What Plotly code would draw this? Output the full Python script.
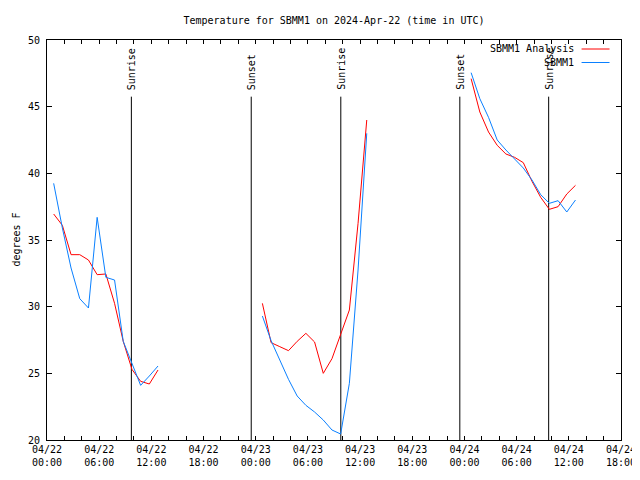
import plotly.graph_objects as go

FONT = "DejaVu Sans Mono"

# --- data -----------------------------------------------------------------
day1 = ["2024-04-22 %02d:46" % h for h in range(0, 13)]
day2 = ["2024-04-23 %02d:46" % h for h in range(0, 13)]
day3 = ["2024-04-24 %02d:46" % h for h in range(0, 13)]

obs_day1 = [39.25, 35.9, 32.9, 30.6, 29.9, 36.7, 32.2, 32.0, 27.4, 25.7, 24.1, 24.8, 25.55]
obs_day2 = [29.3, 27.45, 26.0, 24.55, 23.3, 22.6, 22.1, 21.5, 20.75, 20.45, 24.25, 32.75, 43.0]
obs_day3 = [47.55, 45.6, 44.2, 42.5, 41.75, 41.1, 40.4, 39.5, 38.4, 37.75, 37.95, 37.1, 38.0]

ana_day1 = [36.95, 36.1, 33.9, 33.9, 33.5, 32.4, 32.45, 30.25, 27.4, 25.3, 24.4, 24.2, 25.25]
ana_day2 = [30.25, 27.3, 27.0, 26.7, 27.4, 28.0, 27.35, 25.0, 26.1, 27.9, 29.75, 36.25, 44.0]
ana_day3 = [47.1, 44.6, 43.1, 42.1, 41.45, 41.2, 40.8, 39.4, 38.2, 37.3, 37.5, 38.45, 39.1]

sun_times = ["2024-04-22 09:42", "2024-04-22 23:29", "2024-04-23 09:47",
             "2024-04-23 23:28", "2024-04-24 09:41"]
sun_labels = ["Sunrise", "Sunset", "Sunrise", "Sunset", "Sunrise"]

x_tickvals = ["2024-04-22 00:00", "2024-04-22 06:00", "2024-04-22 12:00", "2024-04-22 18:00",
              "2024-04-23 00:00", "2024-04-23 06:00", "2024-04-23 12:00", "2024-04-23 18:00",
              "2024-04-24 00:00", "2024-04-24 06:00", "2024-04-24 12:00", "2024-04-24 18:00"]
x_ticktext = ["04/22<br>00:00", "04/22<br>06:00", "04/22<br>12:00", "04/22<br>18:00",
              "04/23<br>00:00", "04/23<br>06:00", "04/23<br>12:00", "04/23<br>18:00",
              "04/24<br>00:00", "04/24<br>06:00", "04/24<br>12:00", "04/24<br>18:00"]
y_tickvals = [20, 25, 30, 35, 40, 45, 50]

series_names = ["SBMM1 Analysis", "SBMM1"]
series_colors = ["#ff0000", "#0a80ff"]

# --- figure ---------------------------------------------------------------
def joined(a, b, c):
    return a + [None] + b + [None] + c

x_all = joined(day1, day2, day3)

# the page body has an 8px margin: the figure is drawn 8px right / down
W, H = 632, 472
PL, PT, PW, PH = 38.5, 32.0, 575.0, 400.0   # plot area in figure pixels

fig = go.Figure()
fig.add_trace(go.Scatter(x=x_all, y=joined(ana_day1, ana_day2, ana_day3), mode="lines",
                         name=series_names[0], line=dict(color=series_colors[0], width=1),
                         connectgaps=False))
fig.add_trace(go.Scatter(x=x_all, y=joined(obs_day1, obs_day2, obs_day3), mode="lines",
                         name=series_names[1], line=dict(color=series_colors[1], width=1),
                         connectgaps=False))

for t, lab in zip(sun_times, sun_labels):
    fig.add_shape(type="line", xref="x", yref="y", x0=t, x1=t, y0=20, y1=45.75,
                  line=dict(color="black", width=1), layer="below")
    fig.add_annotation(x=t, y=46.1, xref="x", yref="y", text=lab, textangle=-90,
                       showarrow=False, xanchor="center", yanchor="bottom",
                       font=dict(family=FONT, size=10, color="black"))

# manual gnuplot-style legend (text, then sample line to its right)
for i, (nm, col) in enumerate(zip(series_names, series_colors)):
    ypix = 49 + 13.5 * i          # screen pixels
    yp = 1 - (ypix - 40) / PH
    fig.add_annotation(x=(576 - 46.5) / PW, y=yp, xref="paper", yref="paper", text=nm,
                       showarrow=False, xanchor="right", yanchor="middle",
                       font=dict(family=FONT, size=10, color="black"))
    fig.add_shape(type="line", xref="paper", yref="paper",
                  x0=(582 - 46.5) / PW, x1=(610 - 46.5) / PW, y0=yp, y1=yp,
                  line=dict(color=col, width=1))

fig.add_annotation(x=-31.5 / PW, y=0.5, xref="paper", yref="paper", text="degrees F",
                   textangle=-90, showarrow=False, xanchor="center", yanchor="middle",
                   borderpad=0,
                   font=dict(family=FONT, size=10, color="black"))

fig.update_layout(
    width=W, height=H,
    margin=dict(l=PL, r=W - PL - PW, t=PT, b=H - PT - PH, autoexpand=False),
    paper_bgcolor="white", plot_bgcolor="white",
    showlegend=False,
    font=dict(family=FONT, size=10, color="black"),
    title=dict(text="Temperature for SBMM1 on 2024-Apr-22 (time in UTC)",
               x=0.5, xref="paper", xanchor="center",
               y=1 - 12 / H, yref="container", yanchor="middle",
               font=dict(family=FONT, size=10, color="black")),
    xaxis=dict(type="date", range=["2024-04-22 00:00", "2024-04-24 18:00"],
               tickmode="array", tickvals=x_tickvals, ticktext=x_ticktext,
               ticks="inside", ticklen=4, tickcolor="black", tickwidth=1,
               minor=dict(tickmode="linear", tick0="2024-04-22 00:00", dtick=7200000,
                          ticks="inside", ticklen=4, tickcolor="black", tickwidth=1,
                          showgrid=False),
               showline=True, linecolor="black", linewidth=1, mirror="ticks",
               showgrid=False, zeroline=False, automargin=False,
               tickfont=dict(family=FONT, size=10, color="black")),
    yaxis=dict(range=[20, 50], tickmode="array", tickvals=y_tickvals,
               ticks="inside", ticklen=5, tickcolor="black", tickwidth=1,
               showline=True, linecolor="black", linewidth=1, mirror="ticks",
               showgrid=False, zeroline=False, ticklabelstandoff=4, automargin=False,
               tickfont=dict(family=FONT, size=10, color="black")),
)

fig.write_html("out.html")
